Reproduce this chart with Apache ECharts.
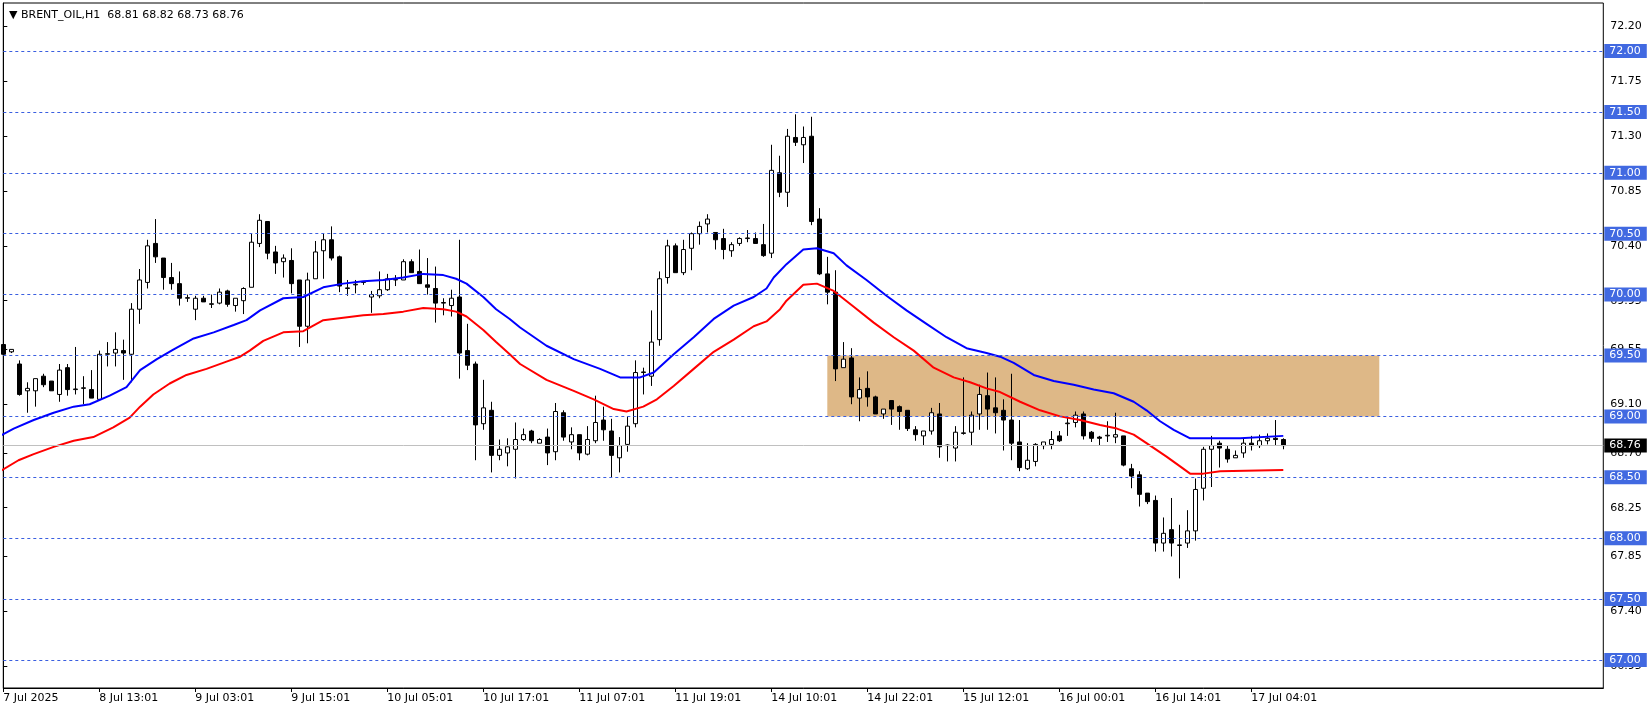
<!DOCTYPE html>
<html><head><meta charset="utf-8">
<script src="https://cdn.jsdelivr.net/npm/echarts@6/dist/echarts.min.js"></script>
<style>html,body{margin:0;padding:0;background:#fff}#c{width:1651px;height:705px}</style>
</head><body><div id="c"></div>
<script>
// [open, close, low, high]
const candles = [
[69.59,69.51,69.50,69.69],[69.53,69.55,69.52,69.55],[69.43,69.18,69.17,69.46],[69.21,69.23,69.03,69.28],[69.21,69.31,69.08,69.31],
[69.33,69.26,69.24,69.35],[69.29,69.21,69.21,69.29],[69.18,69.38,69.12,69.43],[69.40,69.22,69.17,69.43],[69.22,69.225,69.18,69.57],
[69.23,69.235,69.10,69.33],[69.22,69.15,69.15,69.38],[69.14,69.51,69.14,69.54],[69.51,69.515,69.41,69.61],[69.52,69.55,69.41,69.69],
[69.54,69.52,69.30,69.63],[69.51,69.88,69.28,69.93],[69.88,70.12,69.76,70.21],[70.10,70.40,70.05,70.45],[70.42,70.31,70.26,70.62],
[70.30,70.14,70.04,70.30],[70.14,70.09,70.04,70.26],[70.09,69.97,69.91,70.19],[69.97,69.975,69.94,70.00],[69.88,69.97,69.79,69.99],
[69.97,69.94,69.94,69.99],[69.92,69.925,69.89,70.00],[69.93,70.02,69.92,70.05],[70.03,69.92,69.90,70.04],[69.91,69.97,69.86,69.97],
[69.95,70.05,69.84,70.06],[70.06,70.43,70.06,70.50],[70.42,70.61,70.39,70.66],[70.60,70.34,70.29,70.60],[70.35,70.26,70.17,70.40],
[70.27,70.30,70.14,70.33],[70.28,70.09,70.01,70.38],[70.12,69.74,69.57,70.12],[69.74,70.12,69.60,70.18],[70.13,70.35,70.13,70.44],
[70.36,70.45,70.13,70.50],[70.45,70.30,70.28,70.56],[70.31,70.07,70.02,70.32],[70.05,70.055,69.99,70.12],[70.08,70.085,70.01,70.12],
[70.10,70.105,70.08,70.11],[69.98,70.00,69.85,70.03],[69.99,70.04,69.97,70.19],[70.04,70.13,70.03,70.17],[70.12,70.125,70.07,70.16],
[70.12,70.27,70.12,70.29],[70.27,70.18,70.18,70.29],[70.19,70.09,70.09,70.37],[70.08,70.06,70.00,70.30],[70.05,69.93,69.77,70.23],
[69.93,69.935,69.83,69.97],[69.91,69.97,69.82,70.04],[69.98,69.52,69.31,70.45],[69.54,69.42,69.38,69.76],[69.43,68.93,68.64,69.45],
[68.94,69.07,68.89,69.30],[69.05,68.68,68.54,69.12],[68.68,68.73,68.64,68.81],[68.70,68.75,68.59,68.82],[68.73,68.81,68.49,68.95],
[68.81,68.85,68.80,68.90],[68.88,68.80,68.78,68.89],[68.78,68.81,68.78,68.82],[68.83,68.70,68.60,68.90],[68.71,69.04,68.64,69.11],
[69.03,68.83,68.80,69.05],[68.79,68.85,68.73,68.91],[68.85,68.70,68.64,68.85],[68.69,68.81,68.68,68.92],[68.80,68.95,68.78,69.17],
[68.97,68.89,68.80,69.08],[68.88,68.68,68.50,68.98],[68.66,68.76,68.54,68.83],[68.77,68.92,68.71,69.00],[68.94,69.36,68.91,69.46],
[69.36,69.365,69.18,69.40],[69.33,69.61,69.25,69.87],[69.63,70.13,69.58,70.19],[70.14,70.40,70.09,70.45],[70.40,70.18,70.18,70.42],
[70.18,70.37,70.16,70.45],[70.38,70.50,70.20,70.51],[70.50,70.56,70.41,70.60],[70.58,70.62,70.51,70.66],[70.51,70.45,70.37,70.51],
[70.46,70.37,70.29,70.54],[70.36,70.41,70.31,70.43],[70.42,70.46,70.40,70.47],[70.46,70.465,70.43,70.53],[70.46,70.42,70.42,70.51],
[70.41,70.32,70.31,70.58],[70.34,71.02,70.30,71.23],[71.00,70.84,70.80,71.14],[70.84,71.30,70.72,71.36],[71.29,71.25,71.22,71.48],
[71.23,71.29,71.08,71.38],[71.30,70.60,70.57,71.46],[70.62,70.17,70.16,70.71],[70.17,70.02,69.92,70.31],[70.02,69.39,69.29,70.20],
[69.40,69.47,69.40,69.61],[69.48,69.16,69.10,69.56],[69.15,69.22,68.96,69.32],[69.23,69.16,69.08,69.37],[69.16,69.02,69.02,69.17],
[69.02,69.06,68.98,69.06],[69.13,69.06,68.93,69.13],[69.08,69.04,68.89,69.09],[69.05,68.90,68.88,69.05],[68.89,68.85,68.80,68.92],
[68.84,68.88,68.76,68.88],[68.88,69.03,68.85,69.07],[69.02,68.75,68.66,69.11],[68.76,68.765,68.63,68.77],[68.74,68.87,68.63,68.92],
[68.86,68.865,68.85,69.32],[68.87,69.01,68.76,69.04],[69.02,69.18,68.89,69.26],[69.17,69.06,68.89,69.36],[69.07,69.03,68.86,69.32],
[69.05,68.97,68.72,69.14],[68.97,68.78,68.64,69.35],[68.79,68.58,68.55,68.97],[68.57,68.64,68.56,68.78],[68.63,68.77,68.59,68.78],
[68.76,68.79,68.73,68.79],[68.77,68.81,68.73,68.88],[68.84,68.80,68.79,68.88],[68.94,68.945,68.84,69.00],[68.95,69.01,68.91,69.04],
[69.02,68.84,68.81,69.04],[68.87,68.82,68.79,68.88],[68.83,68.82,68.76,68.84],[68.84,68.845,68.79,68.96],[68.83,68.85,68.78,69.03],
[68.84,68.60,68.59,68.84],[68.57,68.51,68.41,68.61],[68.52,68.36,68.26,68.55],[68.37,68.30,68.28,68.37],[68.31,67.96,67.89,68.35],
[67.96,68.04,67.89,68.17],[68.07,67.96,67.85,68.33],[67.94,67.945,67.67,68.11],[67.96,68.06,67.92,68.23],[68.06,68.40,67.98,68.49],
[68.41,68.73,68.31,68.75],[68.73,68.76,68.42,68.84],[68.78,68.74,68.58,68.80],[68.73,68.65,68.62,68.76],[68.66,68.68,68.66,68.72],
[68.70,68.78,68.66,68.82],[68.78,68.76,68.72,68.84],[68.76,68.80,68.74,68.85],[68.80,68.82,68.77,68.86],[68.82,68.81,68.76,68.97],
[68.81,68.76,68.73,68.82]
];
const blueLine = [[-0.4,68.84],[1.3,68.90],[3.8,68.97],[6.3,69.03],[8.8,69.08],[10.8,69.10],[13.3,69.17],[15.4,69.24],[17.1,69.38],[19.2,69.47],[21.3,69.55],[23.8,69.64],[26.3,69.69],[28.8,69.75],[30.4,69.79],[32.1,69.87],[35,69.97],[37.5,69.98],[40,70.06],[42.5,70.09],[45,70.11],[47.5,70.12],[50,70.14],[52.5,70.17],[55,70.16],[56.6,70.13],[57.9,70.09],[60,69.98],[61.6,69.88],[63.3,69.80],[64.6,69.73],[67.9,69.58],[71.3,69.47],[74.6,69.39],[77.1,69.32],[79.6,69.32],[81.3,69.36],[83.8,69.51],[86.3,69.65],[88.8,69.80],[91.3,69.91],[93.8,69.98],[95.4,70.05],[96.3,70.14],[97.9,70.25],[100,70.37],[101.7,70.38],[103.8,70.34],[105.4,70.24],[107.9,70.12],[110.4,69.99],[112.9,69.87],[115.4,69.76],[117.9,69.65],[120.4,69.56],[122.9,69.52],[124.6,69.49],[126.3,69.44],[128.8,69.34],[131.3,69.29],[133.8,69.26],[136.3,69.22],[138.8,69.19],[141.3,69.12],[142.9,69.05],[144.6,68.96],[146.3,68.89],[148.35,68.82],[150.85,68.82],[154.6,68.82],[160,68.84]];
const redLine = [[-0.4,68.55],[1.9,68.64],[3.8,68.69],[6.3,68.75],[8.8,68.80],[11.25,68.83],[13.75,68.91],[15.8,68.99],[17.1,69.08],[18.75,69.18],[20.8,69.27],[22.9,69.34],[25.4,69.39],[27.9,69.45],[29.6,69.49],[30.8,69.54],[32.5,69.62],[35,69.69],[37.5,69.70],[40,69.79],[42.5,69.81],[45,69.83],[47.5,69.84],[50,69.86],[52.5,69.89],[55,69.88],[56.6,69.86],[57.9,69.82],[60,69.71],[61.6,69.61],[63.3,69.51],[64.6,69.43],[67.9,69.30],[71.3,69.21],[73.8,69.14],[76.3,69.06],[77.9,69.04],[80,69.08],[81.7,69.14],[83.8,69.25],[86.3,69.39],[88.8,69.53],[91.3,69.63],[93.8,69.74],[95.4,69.78],[97.1,69.88],[97.9,69.95],[100,70.08],[101.7,70.09],[103.8,70.03],[106.3,69.90],[108.8,69.77],[111.3,69.65],[113.8,69.54],[116.3,69.40],[118.8,69.32],[120.85,69.28],[122.9,69.23],[124.6,69.20],[127.1,69.12],[129.6,69.05],[132.1,69.00],[134.6,68.97],[137.1,68.93],[139.2,68.90],[141.3,68.85],[142.9,68.78],[145.4,68.67],[147.1,68.59],[148.35,68.53],[150,68.53],[152.1,68.55],[160,68.56]];
const timeLabels = ['7 Jul 2025','8 Jul 13:01','9 Jul 03:01','9 Jul 15:01','10 Jul 05:01','10 Jul 17:01','11 Jul 07:01','11 Jul 19:01','14 Jul 10:01','14 Jul 22:01','15 Jul 12:01','16 Jul 00:01','16 Jul 14:01','17 Jul 04:01'];
const labelStep = 12;
const slotCount = 201;
const priceTicks = [72.20,71.75,71.30,70.85,70.40,69.95,69.55,69.10,68.70,68.25,67.85,67.40,66.95];
const levelLines = [72.0,71.5,71.0,70.5,70.0,69.5,69.0,68.5,68.0,67.5,67.0];
const zoneBox = {fromBar:103, toBar:172, low:69.0, high:69.5};
const lastPrice = 68.76;

const cats = [];
for (let i = 0; i < slotCount; i++) {
  const k = i / labelStep;
  cats.push(Number.isInteger(k) && k < timeLabels.length ? timeLabels[k] : '');
}
const FONT = 'DejaVu Sans';
const chart = echarts.init(document.getElementById('c'));
chart.setOption({
  animation: false,
  backgroundColor: '#fff',
  title: {text: '\u25BC BRENT_OIL,H1  68.81 68.82 68.73 68.76', left: 4, top: 5,
    textStyle: {fontFamily: FONT, fontSize: 11, fontWeight: 'normal', color: '#000'}},
  grid: {left: 3.3, right: 47.7, top: 3, bottom: 17, show: true, borderColor: '#000', borderWidth: 1},
  xAxis: [{
    type: 'category', data: cats, boundaryGap: false,
    axisLine: {lineStyle: {color: '#000'}},
    axisTick: {interval: (i, v) => v !== '', length: 4, lineStyle: {color: '#000'}},
    axisLabel: {interval: (i, v) => v !== '', align: 'left', margin: 5, fontFamily: FONT, fontSize: 11, color: '#000'},
    splitLine: {show: false}
  }, {
    type: 'value', min: 0, max: slotCount - 1, show: false
  }],
  yAxis: {
    type: 'value', position: 'right', min: 66.77, max: 72.394, scale: true,
    axisLine: {show: true, lineStyle: {color: '#000'}},
    axisTick: {show: true, customValues: priceTicks, length: 4, lineStyle: {color: '#000'}},
    axisLabel: {customValues: priceTicks, margin: 7, fontFamily: FONT, fontSize: 11, color: '#000', formatter: v => v.toFixed(2)},
    splitLine: {show: false}
  },
  series: [
    {type: 'line', data: [], z: 1, silent: true,
     markArea: {silent: true, itemStyle: {color: '#deb887', opacity: 1},
       data: [[{xAxis: zoneBox.fromBar, yAxis: zoneBox.low}, {xAxis: zoneBox.toBar, yAxis: zoneBox.high}]]}},
    {type: 'line', data: [], z: 2, silent: true,
     markLine: {silent: true, symbol: 'none', animation: false,
       lineStyle: {color: '#3a5fe0', type: [3, 3], width: 1},
       label: {position: 'end', distance: 1, color: '#fff', backgroundColor: '#4169e1', padding: [2, 6, 1, 5],
         fontFamily: FONT, fontSize: 11, formatter: p => p.value.toFixed(2)},
       data: levelLines.map(v => ({yAxis: v}))}},
    {type: 'candlestick', data: candles, barWidth: 5, z: 3,
     itemStyle: {color: '#ffffff', color0: '#000000', borderColor: '#000000', borderColor0: '#000000', borderWidth: 1},
     markLine: {silent: true, symbol: 'none',
       lineStyle: {color: '#c0c0c0', type: 'solid', width: 1},
       label: {position: 'end', distance: 1, color: '#fff', backgroundColor: '#000', padding: [2, 6, 1, 5],
         fontFamily: FONT, fontSize: 11, formatter: p => p.value.toFixed(2)},
       data: [{yAxis: lastPrice}]}},
    {type: 'line', xAxisIndex: 1, data: blueLine, showSymbol: false, z: 4,
     lineStyle: {color: '#0000ff', width: 2}},
    {type: 'line', xAxisIndex: 1, data: redLine, showSymbol: false, z: 4,
     lineStyle: {color: '#ff0000', width: 2}}
  ]
});
</script></body></html>
